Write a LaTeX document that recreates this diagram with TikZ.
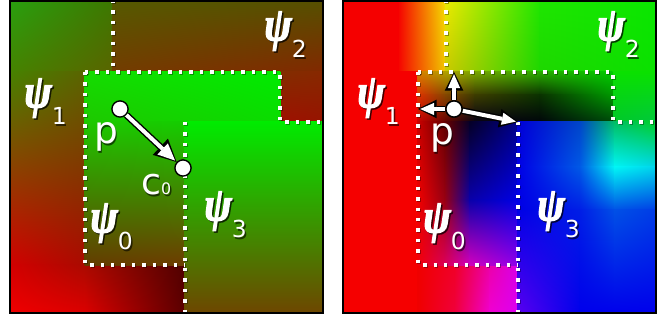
\documentclass[tikz,border=0pt]{standalone}
\usepackage{fontspec}
\usepackage{graphicx}
\usetikzlibrary{arrows.meta, shadings}
\newfontfamily\psiface{Liberation Serif}[BoldItalicFeatures={FakeBold=2.5}]
\newfontfamily\labface{DejaVu Sans}

%% one softly shaded patch: corners upper left, upper right, lower left, lower right
\newcommand{\tile}[8]{%
  \definecolor{cUL}{RGB}{#5}\definecolor{cUR}{RGB}{#6}%
  \definecolor{cLL}{RGB}{#7}\definecolor{cLR}{RGB}{#8}%
  \shade[upper left=cUL, upper right=cUR, lower left=cLL, lower right=cLR]
    (#1-0.3,#2-0.3) rectangle (#3+0.3,#4+0.3);}
\newcommand{\psilab}[1]{\scalebox{0.86}[1]{\psiface\bfseries\itshape\fontsize{41}{41}\selectfont ψ}%
  \raisebox{-14.9pt}{\labface\fontsize{20}{20}\selectfont #1}}
\newcommand{\shlabel}[3]{%
  \node[lblshadow] (#1s) at (#2) {#3};
  \node[lbl] (#1) at (#2) {#3};}

\tikzset{
  lbl/.style={inner sep=0pt, anchor=base west, text=white},
  lblshadow/.style={lbl, text=black, opacity=0.6, xshift=1.3pt, yshift=-1.3pt},
  dotline/.style={white, line width=2.9pt, dash pattern=on 2.9pt off 6pt},
  dotshadow/.style={dotline, draw=black, opacity=0.35, xshift=0.9pt, yshift=-0.9pt},
  frame/.style={draw=black, line width=1.7pt},
  dotpt/.style={circle, draw=black, fill=white, line width=1.2pt,
                minimum size=13.8pt, inner sep=0pt},
  arrowout/.style={black, line width=5.8pt,
                   -{Triangle[length=#1, width=#1, line width=0pt]}},
  arrowin/.style 2 args={white, line width=3.4pt, shorten >=1.8pt,
                  -{Triangle[length=#1, width=#2, line width=0pt]}},
}

\begin{document}
\begin{tikzpicture}[x=0.03cm, y=-0.03cm]
\useasboundingbox (0,0) rectangle (666,320);

%% Left panel
% psi_1
\tile{10}{0}{113}{72}{40,160,15}{60,120,0}{70,130,0}{90,100,0}
\tile{10}{72}{85}{265}{70,130,0}{90,100,0}{210,0,0}{170,10,0}
\tile{10}{265}{85}{313}{210,0,0}{170,10,0}{240,0,0}{220,0,0}
\tile{85}{265}{185}{313}{170,10,0}{80,0,0}{220,0,0}{90,0,0}
% psi_2
\tile{113}{0}{322}{72}{85,90,0}{85,80,0}{115,60,0}{130,40,0}
\tile{280}{72}{322}{122}{130,45,0}{135,40,0}{160,15,0}{150,20,0}
% psi_0
\tile{85}{72}{280}{122}{20,220,0}{0,235,0}{30,200,0}{10,220,0}
\tile{85}{122}{185}{265}{30,200,0}{20,205,0}{100,60,0}{110,60,0}
% psi_3
\tile{185}{122}{322}{313}{0,235,0}{0,235,0}{110,70,0}{110,70,0}

%% Right panel
% psi_1
\tile{343}{0}{400}{72}{245,0,0}{245,0,0}{245,0,0}{245,0,0}
\tile{400}{0}{446}{72}{245,10,0}{245,225,0}{245,10,0}{240,200,0}
\tile{343}{72}{418}{313}{245,0,0}{245,0,0}{245,0,0}{245,0,0}
\tile{418}{265}{455}{313}{240,0,0}{240,0,40}{240,0,0}{240,0,60}
\tile{455}{265}{490}{313}{240,0,40}{235,0,170}{240,0,60}{240,0,210}
\tile{490}{265}{518}{313}{235,0,170}{215,0,235}{240,0,210}{220,0,240}
% psi_2
\tile{446}{0}{540}{72}{235,235,0}{30,230,0}{200,200,0}{30,215,0}
\tile{540}{0}{656}{72}{30,230,0}{10,230,0}{30,215,0}{10,225,0}
\tile{612}{72}{656}{122}{10,225,0}{10,225,0}{0,200,40}{0,200,60}
% psi_0, upper arm
\tile{418}{72}{446}{95}{215,125,0}{175,160,0}{220,50,0}{130,70,0}
\tile{446}{72}{475}{95}{175,160,0}{120,165,0}{130,70,0}{60,60,0}
\tile{475}{72}{540}{95}{120,165,0}{40,170,0}{60,60,0}{10,50,0}
\tile{540}{72}{612}{95}{40,170,0}{0,200,0}{10,50,0}{0,150,0}
\tile{418}{95}{446}{122}{220,50,0}{130,70,0}{200,0,0}{100,0,0}
\tile{446}{95}{475}{122}{130,70,0}{60,60,0}{100,0,0}{5,0,20}
\tile{475}{95}{540}{122}{60,60,0}{10,50,0}{5,0,20}{0,5,10}
\tile{540}{95}{612}{122}{10,50,0}{0,150,0}{0,5,10}{0,70,10}
% psi_0, lower arm
\tile{418}{122}{445}{200}{200,0,0}{100,0,0}{240,0,0}{150,0,20}
\tile{445}{122}{470}{200}{100,0,0}{5,0,40}{150,0,20}{10,0,170}
\tile{470}{122}{518}{200}{5,0,40}{0,0,140}{10,0,170}{0,0,230}
\tile{418}{200}{445}{265}{240,0,0}{150,0,20}{240,0,10}{220,0,90}
\tile{445}{200}{470}{265}{150,0,20}{10,0,170}{220,0,90}{210,0,190}
\tile{470}{200}{518}{265}{10,0,170}{0,0,230}{210,0,190}{140,0,235}
% psi_3
\tile{518}{122}{580}{167}{0,0,215}{0,70,200}{0,0,230}{0,90,230}
\tile{580}{122}{615}{167}{0,70,200}{0,190,100}{0,90,230}{0,245,245}
\tile{615}{122}{656}{167}{0,190,100}{0,210,40}{0,245,245}{0,210,235}
\tile{518}{167}{580}{210}{0,0,230}{0,90,230}{0,0,230}{0,30,230}
\tile{580}{167}{615}{210}{0,90,230}{0,245,245}{0,30,230}{0,80,230}
\tile{615}{167}{656}{210}{0,245,245}{0,210,235}{0,80,230}{0,60,230}
\tile{518}{210}{580}{313}{0,0,230}{0,30,230}{90,0,240}{0,0,235}
\tile{580}{210}{615}{313}{0,30,230}{0,80,230}{0,0,235}{0,0,235}
\tile{615}{210}{656}{313}{0,80,230}{0,60,230}{0,0,235}{0,0,235}

%% Region borders, frames and labels of both panels
\foreach \dx/\pn/\px/\py in {0/L/94/144, 333/R/97/145} {
  \begin{scope}[xshift=\dx*0.03cm]
    \foreach \sty in {dotshadow,dotline} {
      \draw[\sty] (113,0) -- (113,72);
      \draw[\sty] (85,72) -- (280,72) -- (280,122) -- (322,122);
      \draw[\sty] (85,72) -- (85,265) -- (185,265);
      \draw[\sty] (185,122) -- (185,313);
    }
    \draw[frame] (10,1) rectangle (323,313);
    \shlabel{psi1\pn}{24,107.5}{\psilab{1}}
    \shlabel{psi2\pn}{264,40.5}{\psilab{2}}
    \shlabel{psi0\pn}{90,232.5}{\psilab{0}}
    \shlabel{psi3\pn}{204,220.5}{\psilab{3}}
    \shlabel{plab\pn}{\px,\py}{\labface\fontsize{32}{32}\selectfont p}
  \end{scope}
}
\shlabel{c0lab}{141,195}{\labface\fontsize{31}{31}\selectfont c\fontsize{13.5}{14}\selectfont 0}

%% Points and vectors
\node[dotpt] (pL) at (120,109) {};
\node[dotpt] (c0pt) at (183,168) {};
\node[dotpt] (pR) at (454,109) {};
\coordinate (upT) at (454,72);
\coordinate (leftT) at (418,109);
\coordinate (cornT) at (518,122);
\draw[arrowout=19pt] (pL) -- (c0pt);
\draw[arrowin={14.5pt}{13pt}] (pL) -- (c0pt);
\foreach \t in {upT,leftT,cornT} \draw[arrowout=16pt] (pR) -- (\t);
\foreach \t in {upT,leftT,cornT} \draw[arrowin={12pt}{10.5pt}] (pR) -- (\t);
\node[dotpt] (pRtop) at (pR) {};
\end{tikzpicture}
\end{document}
